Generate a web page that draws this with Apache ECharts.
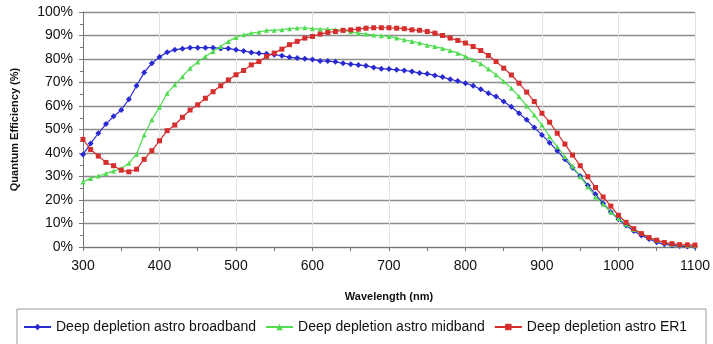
<!DOCTYPE html>
<html>
<head>
<meta charset="utf-8">
<script src="https://cdn.jsdelivr.net/npm/echarts@6/dist/echarts.min.js"></script>
<style>
html,body{margin:0;padding:0;background:#fff;}
#chart{width:713px;height:344px;}
</style>
</head>
<body>
<div id="chart"></div>
<script>
// Wavelength (nm), every 10 nm from 300 to 1100
const wavelengths = [300,310,320,330,340,350,360,370,380,390,400,410,420,430,440,450,460,470,480,490,500,510,520,530,540,550,560,570,580,590,600,610,620,630,640,650,660,670,680,690,700,710,720,730,740,750,760,770,780,790,800,810,820,830,840,850,860,870,880,890,900,910,920,930,940,950,960,970,980,990,1000,1010,1020,1030,1040,1050,1060,1070,1080,1090,1100];

const broadband = [39.4,44.0,48.4,52.3,55.6,58.3,62.9,68.6,74.3,78.2,80.8,82.9,83.9,84.4,84.8,84.8,84.8,84.8,84.5,84.5,83.9,83.4,82.8,82.4,82.2,81.8,81.4,80.7,80.4,80.1,79.8,79.2,79.1,78.8,78.2,77.8,77.5,77.1,76.4,75.9,75.7,75.4,75.1,74.7,74.0,73.7,73.0,72.3,71.4,70.6,69.7,68.6,67.1,65.4,64.0,61.9,59.7,56.9,54.1,50.8,47.7,44.4,41.0,37.3,33.7,30.2,26.2,22.5,18.5,14.9,11.8,9.1,6.8,4.9,3.4,2.0,1.2,0.7,0.4,0.2,0.1];

const midband = [27.7,29.2,30.2,31.3,32.3,33.4,35.6,39.5,47.7,54.1,59.5,65.4,69.0,72.5,76.1,78.7,81.1,83.2,85.3,87.5,89.2,90.3,91.0,91.5,92.2,92.2,92.5,92.9,93.2,93.3,92.9,92.7,92.7,92.5,92.2,91.6,91.0,90.6,90.2,89.9,89.6,88.9,88.2,87.5,86.8,85.9,85.3,84.5,83.6,82.5,81.1,79.7,78.0,75.7,73.3,70.4,67.6,64.0,60.0,56.2,51.9,46.9,42.7,38.4,34.4,29.9,25.6,21.3,18.2,14.9,12.1,9.7,7.4,5.7,4.0,2.8,1.8,1.2,0.8,0.6,0.5];

const er1 = [45.8,41.5,38.7,36.0,34.6,32.7,32.0,33.1,37.3,41.0,45.2,49.5,51.9,55.2,58.3,60.5,63.3,66.1,68.6,71.1,73.3,75.1,77.5,78.9,81.1,82.5,84.2,86.1,87.5,88.9,89.6,90.6,91.3,91.7,92.2,92.4,92.7,93.1,93.3,93.3,93.3,93.1,92.9,92.4,92.2,91.7,91.0,90.0,88.9,87.9,86.8,85.3,83.6,81.5,78.9,76.1,73.2,69.7,65.9,61.9,56.9,53.1,48.4,43.8,39.1,34.6,29.9,25.3,21.3,17.4,13.5,10.5,7.8,5.7,4.0,2.9,1.9,1.4,1.0,0.9,0.8];

const seriesNames = ['Deep depletion astro broadband','Deep depletion astro midband','Deep depletion astro ER1'];
const xTitle = 'Wavelength (nm)';
const yTitle = 'Quantum Efficiency (%)';

const pairs = arr => wavelengths.map((w,i)=>[w,arr[i]]);
const FONT = '"Liberation Sans", Arial, Helvetica, sans-serif';

const chart = echarts.init(document.getElementById('chart'), null, {renderer:'canvas'});
chart.setOption({
  animation:false,
  backgroundColor:'#ffffff',
  grid:{left:83,right:14,top:12,bottom:97,containLabel:false},
  xAxis:{
    type:'value',min:300,max:1100,interval:100,
    name:xTitle,nameLocation:'middle',nameGap:44,
    nameTextStyle:{fontFamily:FONT,fontSize:11,fontWeight:'bold',color:'#111'},
    axisLine:{lineStyle:{color:'#777',width:1}},
    axisTick:{show:true,length:4,lineStyle:{color:'#777'}},
    minorTick:{show:true,splitNumber:2,length:4,lineStyle:{color:'#777'}},
    axisLabel:{fontFamily:FONT,fontSize:14,color:'#111',margin:12,formatter:v=>String(v)},
    splitLine:{show:true,lineStyle:{color:'#e2e2e2',width:1}}
  },
  yAxis:{
    type:'value',min:0,max:100,interval:10,
    name:yTitle,nameLocation:'middle',nameGap:63,
    nameTextStyle:{fontFamily:FONT,fontSize:11,fontWeight:'bold',color:'#111'},
    axisLine:{show:true,lineStyle:{color:'#777',width:1}},
    axisTick:{show:true,length:4,lineStyle:{color:'#777'}},
    minorTick:{show:true,splitNumber:2,length:3,lineStyle:{color:'#777'}},
    axisLabel:{fontFamily:FONT,fontSize:14,color:'#111',margin:10,formatter:'{value}%'},
    splitLine:{show:true,lineStyle:{color:'#8c8c8c',width:1.3}}
  },
  legend:{
    left:23,top:320,padding:0,itemGap:9,itemWidth:27,itemHeight:8,
    textStyle:{fontFamily:FONT,fontSize:14,color:'#111'},
    data:seriesNames
  },
  graphic:[{type:'rect',shape:{x:17,y:309,width:689,height:50},style:{fill:'none',stroke:'#999',lineWidth:1},silent:true,z:-1}],
  series:[
    {name:seriesNames[0],type:'line',data:pairs(broadband),symbol:'diamond',symbolSize:6,
     itemStyle:{color:'#2a2ad2'},lineStyle:{width:1.2,color:'#2a2ad2'}},
    {name:seriesNames[1],type:'line',data:pairs(midband),symbol:'triangle',symbolSize:5,
     itemStyle:{color:'#4fdc4f'},lineStyle:{width:1.2,color:'#4fdc4f'}},
    {name:seriesNames[2],type:'line',data:pairs(er1),symbol:'rect',symbolSize:5,
     itemStyle:{color:'#d42e2e'},lineStyle:{width:1.2,color:'#d42e2e'}}
  ]
});
</script>
</body>
</html>
